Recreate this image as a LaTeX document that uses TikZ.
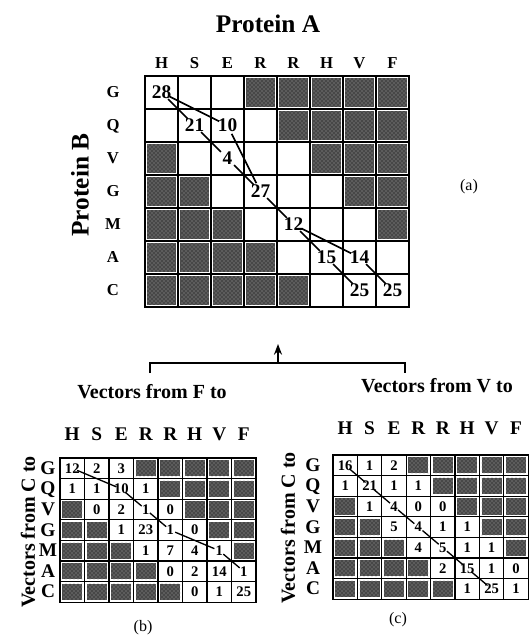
\documentclass[tikz,border=0pt]{standalone}
\usepackage{fontspec}
\setmainfont{Liberation Serif}
\usetikzlibrary{arrows.meta,patterns}

\def\gcell{g}
\def\wcell{w}

\begin{document}
\begin{tikzpicture}[
    x=0.75pt, y=-0.75pt,
    every node/.style={inner sep=0pt},
    bigcell/.style={
        draw,
        line width=1.1pt,
        minimum width=24.75pt,
        minimum height=24.75pt,
        font=\fontsize{14.5}{14.5}\selectfont\bfseries
    },
    smallcell/.style={
        draw,
        line width=0.9pt,
        minimum width=18.4pt,
        minimum height=15.45pt,
        font=\fontsize{11}{11}\selectfont\bfseries
    },
    shaded/.style={
        path picture={
            \fill[black!72]
                ([shift={(1.7pt,1.7pt)}]path picture bounding box.south west) rectangle
                ([shift={(-1.7pt,-1.7pt)}]path picture bounding box.north east);
            \fill[pattern=crosshatch dots, pattern color=black!35]
                ([shift={(1.7pt,1.7pt)}]path picture bounding box.south west) rectangle
                ([shift={(-1.7pt,-1.7pt)}]path picture bounding box.north east);}
    },
    residue/.style={anchor=base, font=\fontsize{12.5}{12.5}\selectfont\bfseries},
    smallresidue/.style={anchor=base, font=\fontsize{14.5}{14.5}\selectfont\bfseries},
    heading/.style={font=\fontsize{19}{19}\selectfont\bfseries},
    vectorlabel/.style={font=\fontsize{15}{15}\selectfont\bfseries},
    tag/.style={font=\fontsize{12}{12}\selectfont},
    link/.style={line width=1.2pt, shorten <=7pt, shorten >=7pt},
    smalllink/.style={line width=1pt, shorten <=4pt, shorten >=4pt}
]
\useasboundingbox (0,0) rectangle (529,641);

% Protein A against protein B
\node[heading] (protA) at (268,24) {Protein A};
\node[heading, rotate=90] (protB) at (80,185) {Protein B};
\node[tag] (taga) at (469,187) {(a)};

\foreach \res [count=\j] in {H,S,E,R,R,H,V,F}
    \node[residue] (acol\j) at ({145+33*(\j-0.5)},69) {\res};
\foreach \res [count=\i] in {G,Q,V,G,M,A,C}
    \node[residue] (arow\i) at (113,{81+33*(\i-0.5)}) {\res};

\foreach \row [count=\i] in {{28,w,w,g,g,g,g,g},{w,21,10,w,g,g,g,g},{g,w,4,w,w,g,g,g},{g,g,w,27,w,w,g,g},{g,g,g,w,12,w,w,g},{g,g,g,g,w,15,14,w},{g,g,g,g,g,w,25,25}}
    \foreach \cell [count=\j] in \row {
        \ifx\cell\gcell
            \node[bigcell, shaded] (a\i\j) at ({145+33*(\j-0.5)},{76+33*(\i-0.5)}) {};
        \else\ifx\cell\wcell
            \node[bigcell] (a\i\j) at ({145+33*(\j-0.5)},{76+33*(\i-0.5)}) {};
        \else
            \node[bigcell] (a\i\j) at ({145+33*(\j-0.5)},{76+33*(\i-0.5)}) {\cell};
        \fi\fi
    };

\draw[link] (a11.center) -- (a23.center);
\draw[link] (a11.center) -- (a22.center);
\draw[link] (a22.center) -- (a33.center);
\draw[link] (a33.center) -- (a44.center);
\draw[link] (a23.center) -- (a44.center);
\draw[link] (a44.center) -- (a55.center);
\draw[link] (a55.center) -- (a66.center);
\draw[link] (a55.center) -- (a67.center);
\draw[link] (a66.center) -- (a77.center);
\draw[link] (a67.center) -- (a78.center);

% Bracket and arrow
\coordinate (brl) at (150,373);
\coordinate (brlt) at (150,363);
\coordinate (brrt) at (405,363);
\coordinate (brr) at (405,373);
\coordinate (arrfoot) at (278,363);
\coordinate (arrtip) at (278,344);
\draw[line width=1.1pt] (brl) -- (brlt) -- (brrt) -- (brr);
\draw[line width=1.4pt, -{Stealth[length=8pt, width=6pt]}] (arrfoot) -- (arrtip);

% Vectors from F
\node[vectorlabel] (vecF) at (152,392) {Vectors from F to};
\node[vectorlabel, rotate=90] (vecCb) at (28,532) {Vectors from C to};
\node[tag] (tagb) at (143,628) {(b)};

\foreach \res [count=\j] in {H,S,E,R,R,H,V,F}
    \node[smallresidue] (bcol\j) at ({60+24.5*(\j-0.5)},440) {\res};
\foreach \res [count=\i] in {G,Q,V,G,M,A,C}
    \node[smallresidue] (brow\i) at (48,{464+20.6*(\i-0.5)}) {\res};

\foreach \row [count=\i] in {{12,2,3,g,g,g,g,g},{1,1,10,1,g,g,g,g},{g,0,2,1,0,g,g,g},{g,g,1,23,1,0,g,g},{g,g,g,1,7,4,1,g},{g,g,g,g,0,2,14,1},{g,g,g,g,g,0,1,25}}
    \foreach \cell [count=\j] in \row {
        \ifx\cell\gcell
            \node[smallcell, shaded] (b\i\j) at ({60+24.5*(\j-0.5)},{458+20.6*(\i-0.5)}) {};
        \else
            \node[smallcell] (b\i\j) at ({60+24.5*(\j-0.5)},{458+20.6*(\i-0.5)}) {\cell};
        \fi
    };

\draw[smalllink] (b11.center) -- (b23.center);
\draw[smalllink] (b23.center) -- (b34.center);
\draw[smalllink] (b34.center) -- (b45.center);
\draw[smalllink] (b45.center) -- (b57.center);
\draw[smalllink] (b57.center) -- (b68.center);

% Vectors from V
\node[vectorlabel] (vecV) at (437,386) {Vectors from V to};
\node[vectorlabel, rotate=90] (vecCc) at (288,528) {Vectors from C to};
\node[tag] (tagc) at (398,620) {(c)};

\foreach \res [count=\j] in {H,S,E,R,R,H,V,F}
    \node[smallresidue] (ccol\j) at ({333+24.4*(\j-0.5)},434) {\res};
\foreach \res [count=\i] in {G,Q,V,G,M,A,C}
    \node[smallresidue] (crow\i) at (313,{461+20.6*(\i-0.5)}) {\res};

\foreach \row [count=\i] in {{16,1,2,g,g,g,g,g},{1,21,1,1,g,g,g,g},{g,1,4,0,0,g,g,g},{g,g,5,4,1,1,g,g},{g,g,g,4,5,1,1,g},{g,g,g,g,2,15,1,0},{g,g,g,g,g,1,25,1}}
    \foreach \cell [count=\j] in \row {
        \ifx\cell\gcell
            \node[smallcell, shaded, minimum width=18.3pt] (c\i\j) at ({333+24.4*(\j-0.5)},{455+20.6*(\i-0.5)}) {};
        \else
            \node[smallcell, minimum width=18.3pt] (c\i\j) at ({333+24.4*(\j-0.5)},{455+20.6*(\i-0.5)}) {\cell};
        \fi
    };

\draw[smalllink] (c11.center) -- (c22.center);
\draw[smalllink] (c22.center) -- (c33.center);
\draw[smalllink] (c33.center) -- (c44.center);
\draw[smalllink] (c44.center) -- (c55.center);
\draw[smalllink] (c55.center) -- (c66.center);
\draw[smalllink] (c66.center) -- (c77.center);

\end{tikzpicture}
\end{document}
